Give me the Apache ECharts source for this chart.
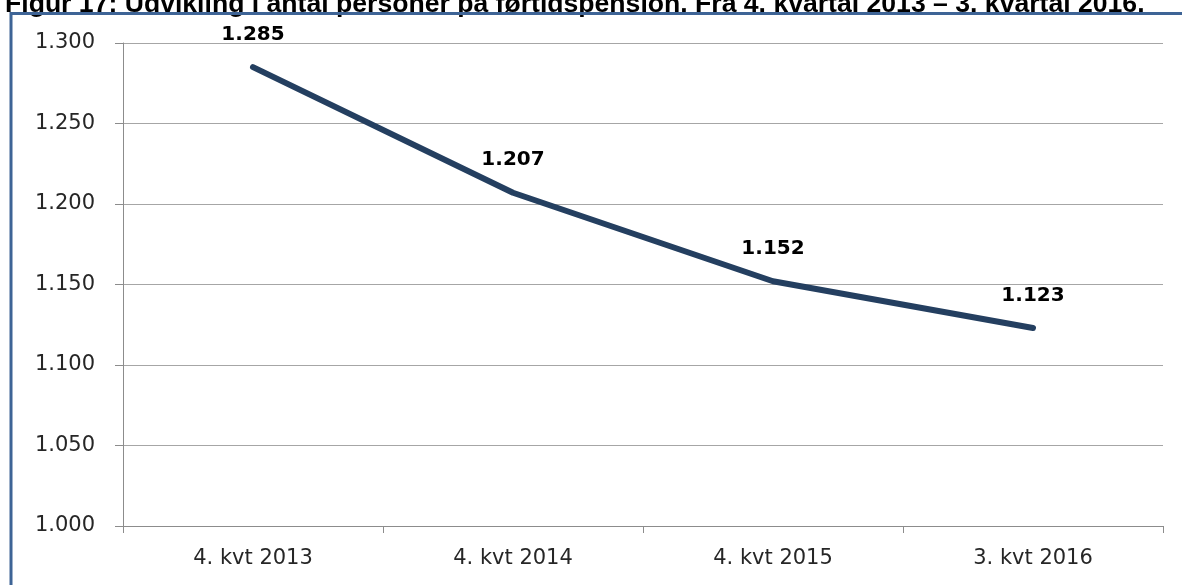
<!DOCTYPE html>
<html lang="da">
  <head>
    <meta charset="UTF-8" />
    <title>Førtidspension</title>
    <script src="https://cdn.jsdelivr.net/npm/echarts@6/dist/echarts.min.js"></script>
    <style>
      html, body { margin: 0; padding: 0; background: #fff; }
      #chart { width: 1182px; height: 585px; }
    </style>
  </head>
  <body>
    <div id="chart"></div>
    <script>
      // data
      var categories = ['4. kvt 2013', '4. kvt 2014', '4. kvt 2015', '3. kvt 2016'];
      var values = [1.285, 1.207, 1.152, 1.123];
      var yMin = 1.0;
      var yMax = 1.3;
      var yStep = 0.05;

      function fmtDa(v) {
        // tusinder med punktum (1.285)
        return v.toFixed(3);
      }

      var chart = echarts.init(document.getElementById('chart'));
      var option = {
        animation: false,
        title: {
          text: 'Figur 17: Udvikling i antal personer på førtidspension. Fra 4. kvartal 2013 – 3. kvartal 2016.',
          left: 0,
          top: -14,
          textStyle: {
            fontFamily: 'Liberation Sans',
            fontWeight: 'bold',
            fontSize: 26.6,
            color: '#000'
          }
        },
        graphic: [
          {
            type: 'polyline',
            silent: true,
            z: 100,
            shape: { points: [[11, 600], [11, 13.5], [1190, 13.5]] },
            style: { stroke: '#3e6496', lineWidth: 3, fill: null }
          }
        ],
        grid: {
          left: 123,
          right: 19,
          top: 43,
          bottom: 59,
          containLabel: false
        },
        xAxis: {
          type: 'category',
          data: categories,
          boundaryGap: true,
          axisLine: { lineStyle: { color: '#8c8c8c', width: 1 } },
          axisTick: { show: true, length: 7, lineStyle: { color: '#8c8c8c' } },
          axisLabel: {
            color: '#262626',
            fontFamily: 'DejaVu Sans',
            fontSize: 21,
            margin: 22
          }
        },
        yAxis: {
          type: 'value',
          min: yMin,
          max: yMax,
          interval: yStep,
          axisLine: { show: true, lineStyle: { color: '#8c8c8c', width: 1 } },
          axisTick: { show: true, inside: false, length: 8, lineStyle: { color: '#8c8c8c' } },
          splitLine: { lineStyle: { color: '#a6a6a6', width: 1 } },
          axisLabel: {
            color: '#262626',
            fontFamily: 'DejaVu Sans',
            fontSize: 21,
            margin: 28,
            formatter: fmtDa
          }
        },
        series: [
          {
            type: 'line',
            data: values,
            symbol: 'circle',
            symbolSize: 1,
            showSymbol: true,
            itemStyle: { color: '#243f60' },
            lineStyle: { color: '#243f60', width: 6, cap: 'round', join: 'round' },
            label: {
              show: true,
              position: 'top',
              distance: 22,
              color: '#000',
              fontFamily: 'DejaVu Sans',
              fontWeight: 'bold',
              fontSize: 20,
              formatter: function (p) { return fmtDa(p.value); }
            }
          }
        ]
      };
      chart.setOption(option);
    </script>
  </body>
</html>
